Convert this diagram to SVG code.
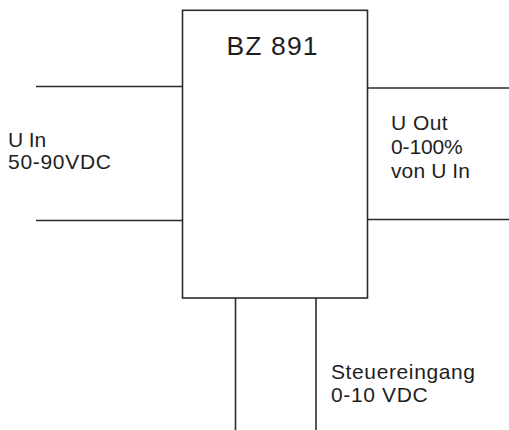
<svg xmlns="http://www.w3.org/2000/svg" width="509" height="430" viewBox="0 0 509 430">
<style>
.ln{stroke:#2b2b2b;stroke-width:1.6;fill:none}
.t{font-family:"Liberation Sans",Arial,sans-serif;font-size:21px;fill:#1e1e1e}
.big{font-size:26.5px}
</style>
<rect width="509" height="430" fill="#fff"/>
<g id="bz891">
<rect class="ln" x="182.5" y="10.3" width="185" height="287.7"/>
<text class="t big" x="226.5" y="55" textLength="91" lengthAdjust="spacing">BZ 891</text>
</g>
<g id="connectors">
<line class="ln" x1="36" y1="86.5" x2="182.5" y2="86.5"/>
<line class="ln" x1="36" y1="220.5" x2="182.5" y2="220.5"/>
<line class="ln" x1="367.5" y1="88" x2="509" y2="88"/>
<line class="ln" x1="367.5" y1="219.5" x2="509" y2="219.5"/>
<line class="ln" x1="235.5" y1="298" x2="235.5" y2="430"/>
<line class="ln" x1="316" y1="298" x2="316" y2="430"/>
</g>
<g id="label-uin">
<text class="t" x="8" y="146.5" textLength="38.3" lengthAdjust="spacing">U In</text>
<text class="t" x="8" y="168.5" textLength="103" lengthAdjust="spacing">50-90VDC</text>
</g>
<g id="label-uout">
<text class="t" x="391" y="130" textLength="56.7" lengthAdjust="spacing">U Out</text>
<text class="t" x="391" y="154" textLength="71.7" lengthAdjust="spacing">0-100%</text>
<text class="t" x="391" y="178.3" textLength="79" lengthAdjust="spacing">von U In</text>
</g>
<g id="label-steuer">
<text class="t" x="331" y="379" textLength="144" lengthAdjust="spacing">Steuereingang</text>
<text class="t" x="331" y="402" textLength="96.7" lengthAdjust="spacing">0-10 VDC</text>
</g>
</svg>
